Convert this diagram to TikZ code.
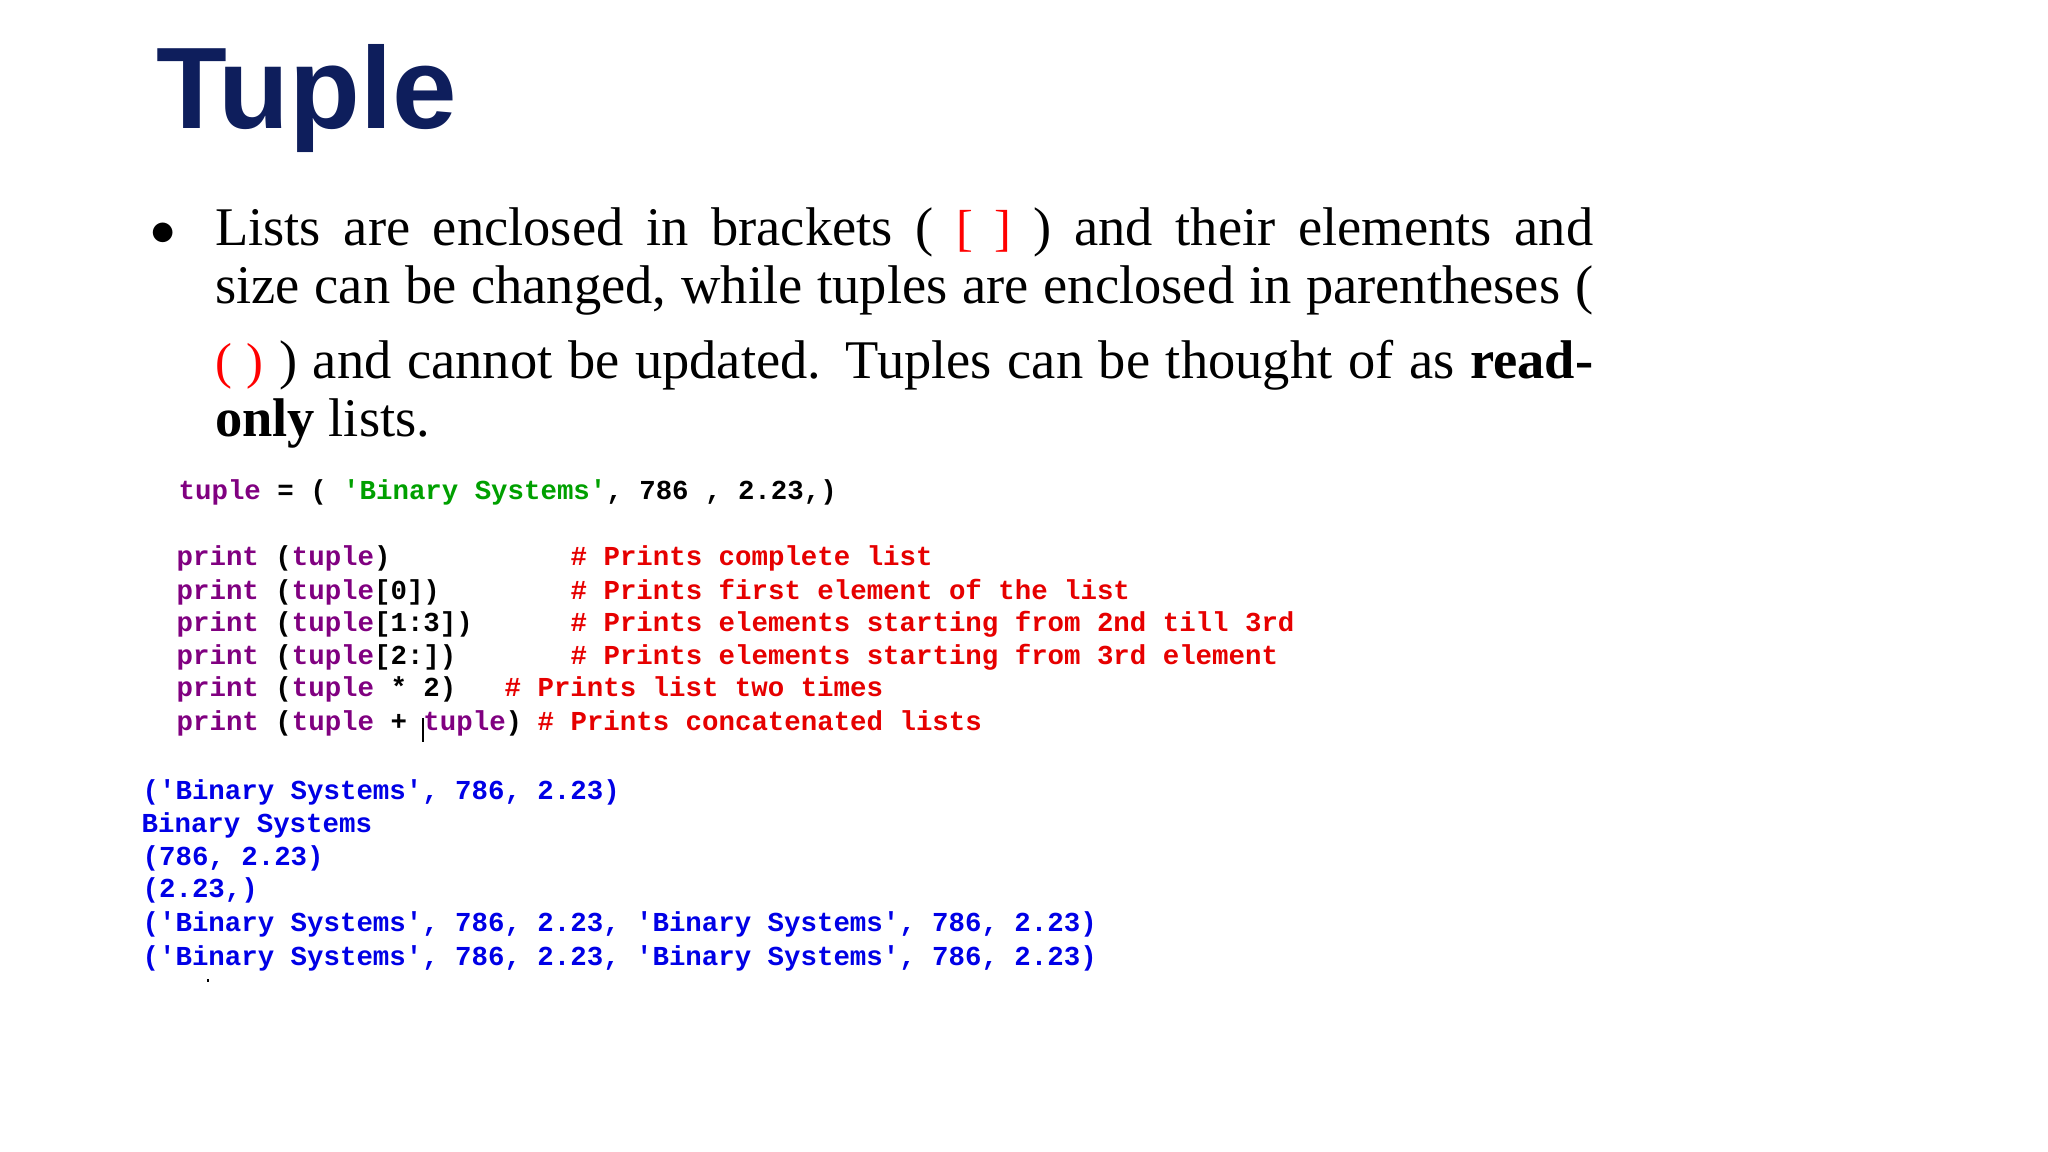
\documentclass[tikz,border=0pt]{standalone}
\usepackage{fontspec}
\setmainfont{Liberation Serif}
\newfontfamily\titlefont{Liberation Sans}
\setmonofont{Liberation Mono}
\definecolor{navy}{RGB}{14,30,92}
\definecolor{kwpurple}{RGB}{128,0,128}
\definecolor{strgreen}{RGB}{0,160,0}
\definecolor{cmtred}{RGB}{230,0,0}
\definecolor{outblue}{RGB}{0,0,230}
\tikzset{
  txt/.style={anchor=base west,inner sep=0pt,font=\fontsize{15.5}{18}\selectfont},
  code/.style={anchor=base west,inner sep=0pt,font=\fontsize{7.8}{9}\selectfont\ttfamily\bfseries},
}
\newcommand{\kw}[1]{\textcolor{kwpurple}{#1}}
\newcommand{\cm}[1]{\textcolor{cmtred}{#1}}
\begin{document}
\begin{tikzpicture}
\useasboundingbox (0,0) rectangle (20.48,-11.52);
% title
\node[anchor=base west,inner sep=0pt,text=navy,font=\fontsize{33}{36}\selectfont\titlefont\bfseries] (title) at (1.56,-1.29) {Tuple};
% bullet text
\node[txt] (bullet) at (1.5,-2.46) {$\bullet$};
\node[txt] (l1) at (2.145,-2.46) {\makebox[13.78cm][s]{Lists are enclosed in brackets ( {\color{red}\Large[ ]} ) and their elements and}};
\node[txt] (l2) at (2.145,-3.04) {\makebox[13.78cm][s]{size can be changed, while tuples are enclosed in parentheses (}};
\node[txt] (l3) at (2.145,-3.79) {\makebox[13.78cm][s]{{\color{red}\Large( )} ) and cannot be updated. Tuples can be thought of as \textbf{read-}}};
\node[txt] (l4) at (2.145,-4.37) {\textbf{only} lists.};
% code
\node[code] (c0) at (1.78,-5.0) {\kw{tuple} = ( \textcolor{strgreen}{'Binary Systems'}, 786 , 2.23,)};
\node[code] (c1) at (1.76,-5.66) {\kw{print} (\kw{tuple})};
\node[code] (c2) at (1.76,-5.99) {\kw{print} (\kw{tuple}[0])};
\node[code] (c3) at (1.76,-6.32) {\kw{print} (\kw{tuple}[1:3])};
\node[code] (c4) at (1.76,-6.65) {\kw{print} (\kw{tuple}[2:])};
\node[code] (c5) at (1.76,-6.97) {\kw{print} (\kw{tuple} * 2)};
\node[code] (c6) at (1.76,-7.30) {\kw{print} (\kw{tuple} + \kw{tuple})};
\node[code] (m1) at (5.70,-5.66) {\cm{\# Prints complete list}};
\node[code] (m2) at (5.70,-5.99) {\cm{\# Prints first element of the list}};
\node[code] (m3) at (5.70,-6.32) {\cm{\# Prints elements starting from 2nd till 3rd}};
\node[code] (m4) at (5.70,-6.65) {\cm{\# Prints elements starting from 3rd element}};
\node[code] (m5) at (5.04,-6.97) {\cm{\# Prints list two times}};
\node[code] (m6) at (5.37,-7.30) {\cm{\# Prints concatenated lists}};
\draw[line width=0.6pt] (4.23,-7.18) -- (4.23,-7.42);
% output
\begin{scope}[every node/.append style={code,text=outblue}]
\node (o1) at (1.42,-7.99) {('Binary Systems', 786, 2.23)};
\node (o2) at (1.41,-8.32) {Binary Systems};
\node (o3) at (1.42,-8.65) {(786, 2.23)};
\node (o4) at (1.42,-8.98) {(2.23,)};
\node (o5) at (1.42,-9.32) {('Binary Systems', 786, 2.23, 'Binary Systems', 786, 2.23)};
\node (o6) at (1.42,-9.65) {('Binary Systems', 786, 2.23, 'Binary Systems', 786, 2.23)};
\end{scope}
\fill (2.07,-9.79) rectangle (2.09,-9.82);
\end{tikzpicture}
\end{document}
